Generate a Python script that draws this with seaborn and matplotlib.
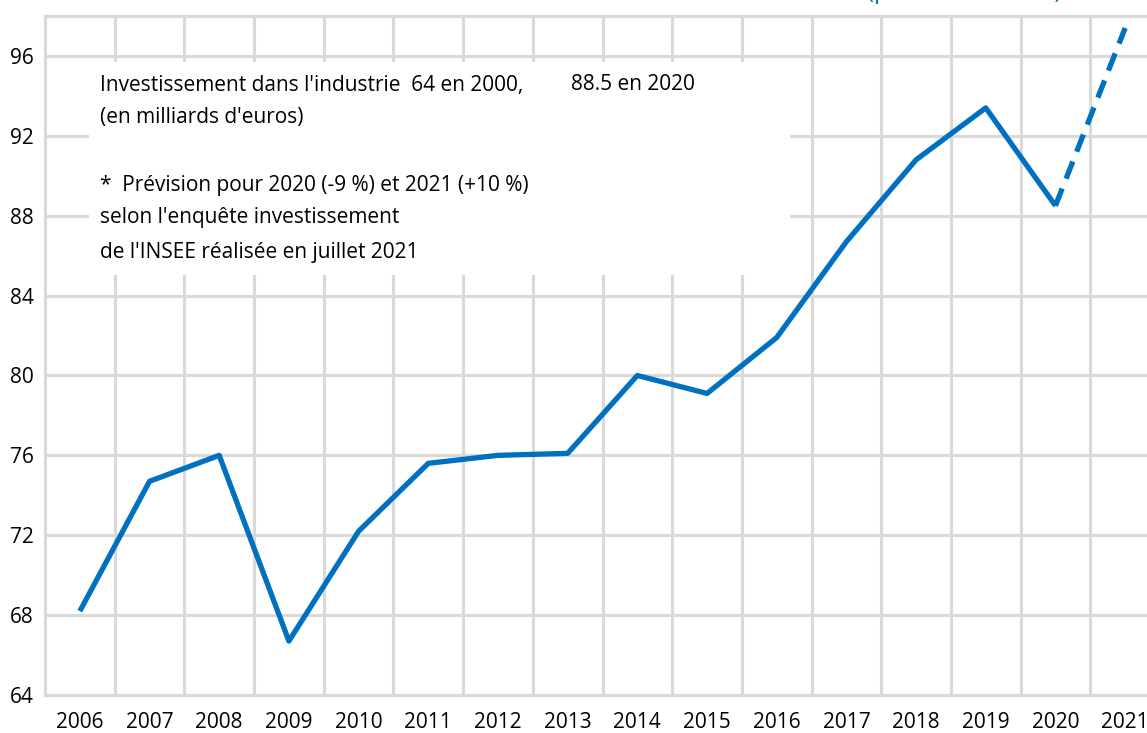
import matplotlib
matplotlib.use("Agg")
import matplotlib.pyplot as plt
import seaborn as sns
import numpy as np
import pandas as pd
from matplotlib.patches import Rectangle

years = ["2006", "2007", "2008", "2009", "2010", "2011", "2012", "2013",
         "2014", "2015", "2016", "2017", "2018", "2019", "2020", "2021"]
values = [68.2, 74.7, 76.0, 66.7, 72.2, 75.6, 76.0, 76.1,
          80.0, 79.1, 81.9, 86.7, 90.8, 93.4, 88.5, 97.4]
y_ticks = [64, 68, 72, 76, 80, 84, 88, 92, 96]

sns.set_theme(style="white")
plt.rcParams['font.family'] = ['Open Sans', 'DejaVu Sans']

W, H = 1147, 733
fig = plt.figure(figsize=(W / 100, H / 100), dpi=100)
left_px, right_px, top_px, bot_px = 45, 1160, 16, 695
ax = fig.add_axes([left_px / W, 1 - bot_px / H, (right_px - left_px) / W, (bot_px - top_px) / H])

df = pd.DataFrame({"pos": np.arange(len(years)), "val": values})
blue = "#0070C0"
sns.lineplot(data=df.iloc[:15], x="pos", y="val", ax=ax, color=blue, linewidth=3.8,
             zorder=3, solid_capstyle="butt")
sns.lineplot(data=df.iloc[14:], x="pos", y="val", ax=ax, color=blue, linewidth=3.8,
             zorder=3, linestyle=(0, (3.5, 2)), dash_capstyle="butt")

ax.set_xlim(-0.5, len(years) - 0.5)
ax.set_ylim(64, 98)
ax.set_yticks(y_ticks)
ax.set_yticklabels([str(t) for t in y_ticks])
ax.set_xticks(np.arange(len(years)))
ax.set_xticklabels(years)
ax.set_xticks(np.arange(len(years) + 1) - 0.5, minor=True)

grid_c = "#D9D9D9"
ax.set_axisbelow(True)
ax.grid(axis="y", which="major", color=grid_c, linewidth=2.2)
ax.grid(axis="x", which="minor", color=grid_c, linewidth=2.2)
ax.grid(axis="x", which="major", visible=False)

ax.tick_params(axis="x", which="major", length=0, pad=12, labelsize=15, colors="#000000")
ax.tick_params(axis="x", which="minor", length=9, width=2.2, color=grid_c, direction="out")
ax.tick_params(axis="y", which="major", length=0, pad=8, labelsize=15, colors="#000000")

for s in ["left", "top", "bottom"]:
    ax.spines[s].set_color(grid_c)
    ax.spines[s].set_linewidth(2.2)
ax.spines["right"].set_visible(False)
ax.set_xlabel("")
ax.set_ylabel("")

# white box behind the annotation text
bx0, bx1, by0, by1 = 89, 790, 62, 275
fig.patches.append(Rectangle((bx0 / W, 1 - by1 / H), (bx1 - bx0) / W, (by1 - by0) / H,
                             transform=fig.transFigure, facecolor="white",
                             edgecolor="none", zorder=2))
ax.set_zorder(1)
ax.patch.set_alpha(0)

txt_kw = dict(fontsize=15, color="#000000", va="center", ha="left")
fig.text(100 / W, 1 - 85 / H, "Investissement dans l'industrie  64 en 2000,", zorder=3, **txt_kw)
fig.text(571 / W, 1 - 85 / H, "88.5 en 2020", zorder=3, **txt_kw)
fig.text(100 / W, 1 - 117 / H, "(en milliards d'euros)", zorder=3, **txt_kw)
fig.text(100 / W, 1 - 186 / H, "*  Prévision pour 2020 (-9 %) et 2021 (+10 %)", zorder=3, **txt_kw)
fig.text(100 / W, 1 - 218 / H, "selon l'enquête investissement", zorder=3, **txt_kw)
fig.text(100 / W, 1 - 253 / H, "de l'INSEE réalisée en juillet 2021", zorder=3, **txt_kw)

# partially visible blue heading at the very top
fig.text(964 / W, 1 - 4 / H, "(prévision 2021 *)", fontsize=17, color=blue,
         ha="center", va="bottom", zorder=3)

fig.savefig("out.png", dpi=100)
